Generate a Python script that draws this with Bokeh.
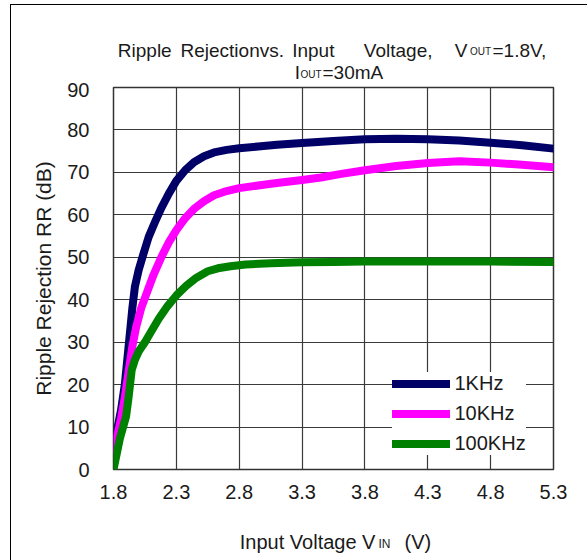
from bokeh.plotting import figure
from bokeh.layouts import column
from bokeh.models import Range1d, FixedTicker, Label, Legend, LegendItem
from bokeh.embed import file_html
from bokeh.resources import INLINE

# ---------------- data ----------------
x_ticks = [1.8, 2.3, 2.8, 3.3, 3.8, 4.3, 4.8, 5.3]
x_tick_labels = ["1.8", "2.3", "2.8", "3.3", "3.8", "4.3", "4.8", "5.3"]
y_ticks = [0, 10, 20, 30, 40, 50, 60, 70, 80, 90]

vin_1k = [1.80, 1.83, 1.86, 1.89, 1.91, 1.93, 1.95, 1.97, 2.00, 2.04, 2.08, 2.13,
          2.18, 2.24, 2.30, 2.37, 2.44, 2.52, 2.60, 2.70, 2.80, 2.95, 3.10, 3.30,
          3.55, 3.80, 4.05, 4.30, 4.55, 4.80, 5.05, 5.30]
rr_1k = [6.0, 9.5, 14.0, 20.0, 26.0, 32.0, 38.0, 43.0, 47.0, 51.0, 54.8, 58.3,
         61.6, 65.0, 68.0, 70.5, 72.4, 73.8, 74.7, 75.3, 75.7, 76.1, 76.5, 76.9,
         77.4, 77.8, 77.9, 77.8, 77.5, 77.0, 76.4, 75.6]

vin_10k = [1.80, 1.83, 1.86, 1.89, 1.92, 1.95, 1.98, 2.02, 2.07, 2.12, 2.18, 2.24,
           2.30, 2.37, 2.44, 2.52, 2.60, 2.70, 2.80, 2.95, 3.10, 3.30, 3.45, 3.60,
           3.80, 4.05, 4.30, 4.55, 4.80, 5.05, 5.30]
rr_10k = [4.6, 8.0, 12.0, 17.0, 23.0, 29.0, 33.5, 38.0, 42.0, 46.0, 50.0, 53.5,
          56.4, 59.2, 61.4, 63.2, 64.6, 65.6, 66.3, 66.9, 67.5, 68.2, 68.8, 69.6,
          70.5, 71.5, 72.2, 72.6, 72.3, 71.8, 71.2]

vin_100k = [1.80, 1.85, 1.90, 1.92, 1.945, 1.97, 2.00, 2.05, 2.10, 2.16, 2.23, 2.30,
            2.38, 2.46, 2.55, 2.63, 2.73, 2.85, 3.05, 3.30, 3.55, 3.80, 4.30, 4.80, 5.30]
rr_100k = [0.0, 7.2, 12.5, 17.0, 23.5, 25.8, 27.8, 30.0, 32.5, 35.5, 38.5, 41.0,
           43.3, 45.2, 46.7, 47.4, 47.9, 48.3, 48.6, 48.8, 48.9, 49.0, 49.0, 49.0, 48.9]

series_names = ["1KHz", "10KHz", "100KHz"]
series_colors = ["#000066", "#FF00FF", "#008000"]

FONT = "Liberation Sans"
TXT = "#1a1a1a"

# page geometry: the layout starts at page (11, 5)
X0, Y0, W = 11, 5, 576
BL, BR = 102, 34                   # left / right borders -> frame spans page 113..553
FX0, FX1 = X0 + BL, X0 + W - BR
TITLE_H, MAIN_H = 77, 428          # title band 5..82, chart 82..510
BOTTOM_H = 560 - (Y0 + TITLE_H + MAIN_H)


def text_band(y_top, h):
    """A blank figure whose frame matches the chart horizontally; data = page pixels."""
    f = figure(width=W, height=h, x_range=Range1d(FX0, FX1), y_range=Range1d(y_top + h, y_top),
               output_backend="svg", toolbar_location=None,
               x_axis_location=None, y_axis_location=None,
               min_border_left=BL, min_border_right=BR,
               min_border_top=0, min_border_bottom=0)
    f.title.visible = False
    f.grid.visible = False
    f.outline_line_color = None
    f.background_fill_color = "white"
    f.border_fill_color = "white"
    return f


def add_text(f, txt, px, py, size):
    f.add_layout(Label(x=px, y=py, text=txt, text_font=FONT,
                       text_font_size=size, text_color=TXT,
                       text_baseline="alphabetic", text_align="left"))


# ---------------- title band ----------------
top = text_band(Y0, TITLE_H)
add_text(top, "Ripple", 117.3, 49.5, "19px")
add_text(top, "Rejection", 180.0, 49.5, "19px")
add_text(top, "vs.", 259.3, 49.5, "19px")
add_text(top, "Input", 291.7, 49.5, "19px")
add_text(top, "Voltage,", 363.3, 49.5, "19px")
add_text(top, "V", 454.3, 49.5, "19px")
add_text(top, "OUT", 469.5, 51.0, "10px")
add_text(top, "=1.8V,", 492.0, 49.5, "19px")
add_text(top, "I", 294.3, 72.0, "19px")
add_text(top, "OUT", 300.0, 73.5, "10px")
add_text(top, "=30mA", 322.0, 72.0, "19px")

# ---------------- main chart ----------------
p = figure(width=W, height=MAIN_H,
           x_range=Range1d(1.8, 5.3), y_range=Range1d(0, 90),
           output_backend="svg", toolbar_location=None,
           min_border_left=BL, min_border_right=BR,
           min_border_top=5, min_border_bottom=41)
p.title.visible = False
p.background_fill_color = "white"
p.border_fill_color = "white"
p.outline_line_color = "#333333"
p.outline_line_width = 1.5

p.xaxis.ticker = FixedTicker(ticks=x_ticks)
p.xaxis.major_label_overrides = {t: s for t, s in zip(x_ticks, x_tick_labels)}
p.yaxis.ticker = FixedTicker(ticks=y_ticks)
for ax in (p.xaxis[0], p.yaxis[0]):
    ax.axis_line_color = None
    ax.major_tick_out = 0
    ax.major_tick_in = 0
    ax.minor_tick_out = 0
    ax.minor_tick_in = 0
    ax.major_label_text_font = FONT
    ax.major_label_text_font_size = "20px"
    ax.major_label_text_color = TXT
p.xaxis.major_label_standoff = 15
p.yaxis.major_label_standoff = 24

p.yaxis.axis_label = "Ripple Rejection RR (dB)"
p.yaxis.axis_label_text_font = FONT
p.yaxis.axis_label_text_font_size = "21px"
p.yaxis.axis_label_text_font_style = "normal"
p.yaxis.axis_label_text_color = TXT
p.yaxis.axis_label_standoff = 9

p.xgrid.ticker = FixedTicker(ticks=x_ticks)
p.ygrid.ticker = FixedTicker(ticks=y_ticks)
for g in (p.xgrid[0], p.ygrid[0]):
    g.grid_line_color = "#3a3a3a"
    g.grid_line_width = 1.2

renderers = []
for xs, ys, c in [(vin_1k, rr_1k, series_colors[0]),
                  (vin_10k, rr_10k, series_colors[1]),
                  (vin_100k, rr_100k, series_colors[2])]:
    r = p.line(xs, ys, line_color=c, line_width=8, line_cap="round", line_join="round")
    renderers.append(r)

legend = Legend(items=[LegendItem(label=n, renderers=[r]) for n, r in zip(series_names, renderers)],
                location=(278.5, 14))
legend.label_text_font = FONT
legend.label_text_font_size = "20px"
legend.label_text_color = TXT
legend.glyph_width = 58
legend.glyph_height = 23
legend.label_height = 23
legend.spacing = 7
legend.padding = 4
legend.margin = 0
legend.label_standoff = 5
legend.border_line_color = None
legend.background_fill_color = "white"
legend.background_fill_alpha = 1.0
p.add_layout(legend)

# ---------------- x-axis title band ----------------
bot = text_band(Y0 + TITLE_H + MAIN_H, BOTTOM_H)
add_text(bot, "Input Voltage V", 239.3, 541.0, "20px")
add_text(bot, "IN", 378.0, 543.0, "12px")
add_text(bot, "(V)", 404.0, 541.0, "20px")

layout = column(top, p, bot, spacing=0)
layout.styles = {"border-left": "1px solid #000", "border-top": "1px solid #000",
                 "margin-left": "10px", "margin-top": "4px"}

open("out.html", "w").write(file_html(layout, INLINE))
